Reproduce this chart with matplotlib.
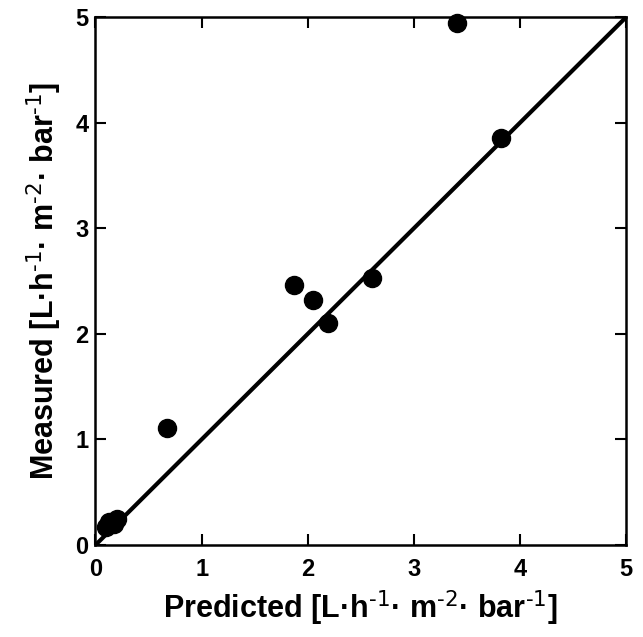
import matplotlib
matplotlib.use("Agg")
import matplotlib.pyplot as plt

plt.rcParams["font.family"] = ["Liberation Sans", "DejaVu Sans"]
plt.rcParams["mathtext.default"] = "regular"

# predicted vs measured permeance, L h-1 m-2 bar-1
predicted = [0.10, 0.13, 0.17, 0.20, 0.67, 1.87, 2.05, 2.19, 2.61, 3.41, 3.82]
measured = [0.17, 0.22, 0.20, 0.25, 1.11, 2.46, 2.32, 2.10, 2.53, 4.95, 3.86]

parity = [0, 5]
ticks = [0, 1, 2, 3, 4, 5]

fig = plt.figure(figsize=(6.43, 6.37), dpi=100)
ax = fig.add_axes([0.1485, 0.1444, 0.825, 0.8284])

ax.plot(parity, parity, color="black", linewidth=3, zorder=2)
ax.plot(predicted, measured, "o", color="black", markersize=13, zorder=3,
        clip_on=False)

ax.set_xlim(0, 5)
ax.set_ylim(0, 5)
ax.set_xticks(ticks)
ax.set_yticks(ticks)
ax.tick_params(direction="in", length=8, width=1.5, top=True, right=True,
               labelsize=17)
ax.tick_params(axis="x", pad=9)
ax.tick_params(axis="y", pad=5)
for lbl in ax.get_xticklabels() + ax.get_yticklabels():
    lbl.set_fontweight("bold")
for s in ax.spines.values():
    s.set_linewidth(1.8)

unit = r"[L·h$^{\text{-1}}$· m$^{\text{-2}}$· bar$^{\text{-1}}$]"
ax.set_xlabel("Predicted " + unit, fontsize=22, fontweight="bold", labelpad=6)
ax.set_ylabel("Measured " + unit, fontsize=22, fontweight="bold", labelpad=8)

fig.savefig("out.png", dpi=100)
